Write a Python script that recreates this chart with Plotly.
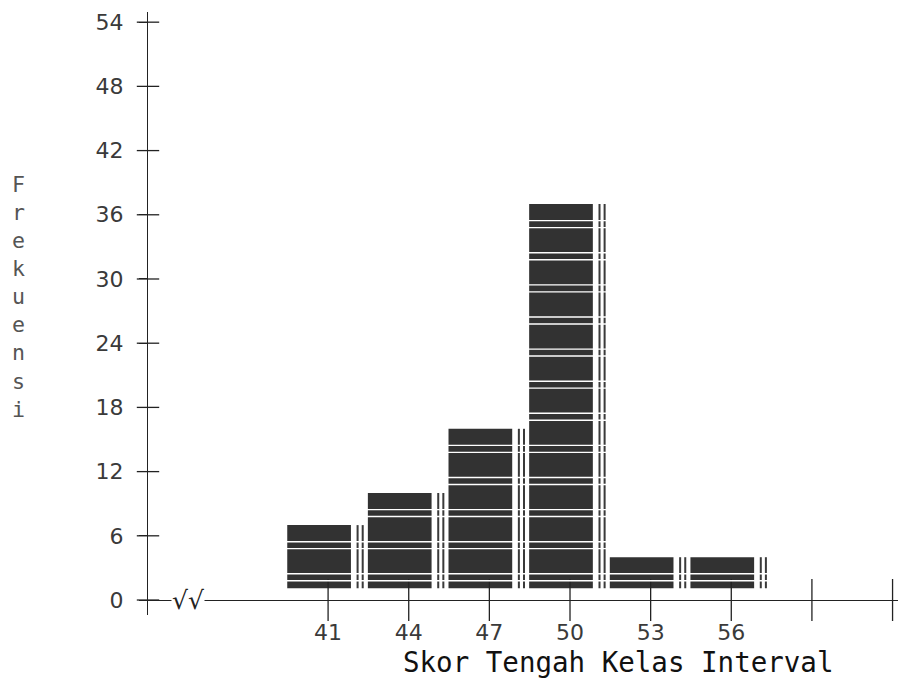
import plotly.graph_objects as go

# ---- data ----
midpoints = [41, 44, 47, 50, 53, 56]
freqs = [7, 10, 16, 37, 4, 4]
x_tick_positions = [41, 44, 47, 50, 53, 56, 59, 62]
x_tick_labels = ["41", "44", "47", "50", "53", "56"]
y_ticks = [0, 6, 12, 18, 24, 30, 36, 42, 48, 54]
x_title = "Skor Tengah Kelas Interval"
y_title = "Frekuensi"

# ---- style constants ----
W, H = 898, 673          # page adds an 8px body margin
ML, MR, MT, MB = 140, 0, 4, 66
X_RANGE = [34.3, 62.5]
Y_RANGE = [-1.4, 54.95]
BAR_BASE = 1.1
BAR_WIDTH = 2.37
BAR_OFFSET = -1.52
SEP_WIDTH = 0.075
SEP_OFFSETS = [1.06, 1.25]
BAR_COLOR = "#323232"

fig = go.Figure()

fig.add_trace(go.Bar(
    x=midpoints, y=[v - BAR_BASE for v in freqs], base=BAR_BASE,
    width=BAR_WIDTH, offset=BAR_OFFSET,
    marker=dict(color=BAR_COLOR, line=dict(width=0)),
    showlegend=False, hoverinfo="skip"))

for off in SEP_OFFSETS:
    fig.add_trace(go.Bar(
        x=midpoints, y=[v - BAR_BASE for v in freqs], base=BAR_BASE,
        width=SEP_WIDTH, offset=off,
        marker=dict(color="#3a3a3a", line=dict(width=0)),
        showlegend=False, hoverinfo="skip"))

fig.add_trace(go.Scatter(
    x=x_tick_positions, y=[0] * len(x_tick_positions), mode="markers",
    marker=dict(symbol="line-ns", size=30, line=dict(color="#222", width=1.3)),
    cliponaxis=False, showlegend=False, hoverinfo="skip"))

fig.add_trace(go.Scatter(
    x=[X_RANGE[0]] * len(y_ticks), y=y_ticks, mode="markers",
    marker=dict(symbol="line-ew", size=16, line=dict(color="#222", width=1.3)),
    cliponaxis=False, showlegend=False, hoverinfo="skip"))

shapes = []
top = max(freqs)
k = 0
while 1.8 + 3 * k < top:
    for dy in (1.8, 2.45):
        yy = dy + 3 * k
        if yy < top:
            shapes.append(dict(type="line", xref="x", yref="y",
                               x0=midpoints[0] - 1.6, x1=midpoints[-1] + 1.4,
                               y0=yy, y1=yy,
                               line=dict(color="white", width=1.4), layer="above"))
    k += 1

plot_w = W - ML - MR
plot_h = H - MT - MB

fig.update_layout(
    width=W, height=H,
    margin=dict(l=ML, r=MR, t=MT, b=MB),
    paper_bgcolor="white", plot_bgcolor="white",
    barmode="overlay",
    shapes=shapes,
    xaxis=dict(range=X_RANGE, tickvals=midpoints, ticktext=x_tick_labels,
               ticks="", showgrid=False, zeroline=False, showline=False,
               ticklabelstandoff=2,
               tickfont=dict(family="DejaVu Sans", size=22, color="#3a3a3a")),
    yaxis=dict(range=Y_RANGE, tickvals=y_ticks, ticktext=[str(v) for v in y_ticks],
               ticks="outside", ticklen=8, tickcolor="#222", ticklabelstandoff=11,
               showgrid=False, zeroline=True, zerolinecolor="#222", zerolinewidth=1.3,
               showline=True, linecolor="#222", linewidth=1.3,
               tickfont=dict(family="DejaVu Sans", size=22, color="#3a3a3a")),
    annotations=[
        dict(x=35.8, y=0, xref="x", yref="y", text="<i>√√</i>", showarrow=False,
             bgcolor="white", font=dict(family="DejaVu Serif", size=25, color="#222"),
             borderpad=0),
        dict(x=(610 - ML) / plot_w, y=(H - MB - 654) / plot_h, xref="paper", yref="paper",
             text=x_title, showarrow=False, xanchor="center", yanchor="middle",
             font=dict(family="DejaVu Sans Mono", size=27.5, color="#111")),
        dict(x=(10 - ML) / plot_w, y=(H - MB - 289) / plot_h, xref="paper", yref="paper",
             text="<br>".join(list(y_title)), showarrow=False,
             xanchor="center", yanchor="middle",
             font=dict(family="DejaVu Sans Mono", size=21.6, color="#555")),
    ],
)

fig.write_html("out.html")
